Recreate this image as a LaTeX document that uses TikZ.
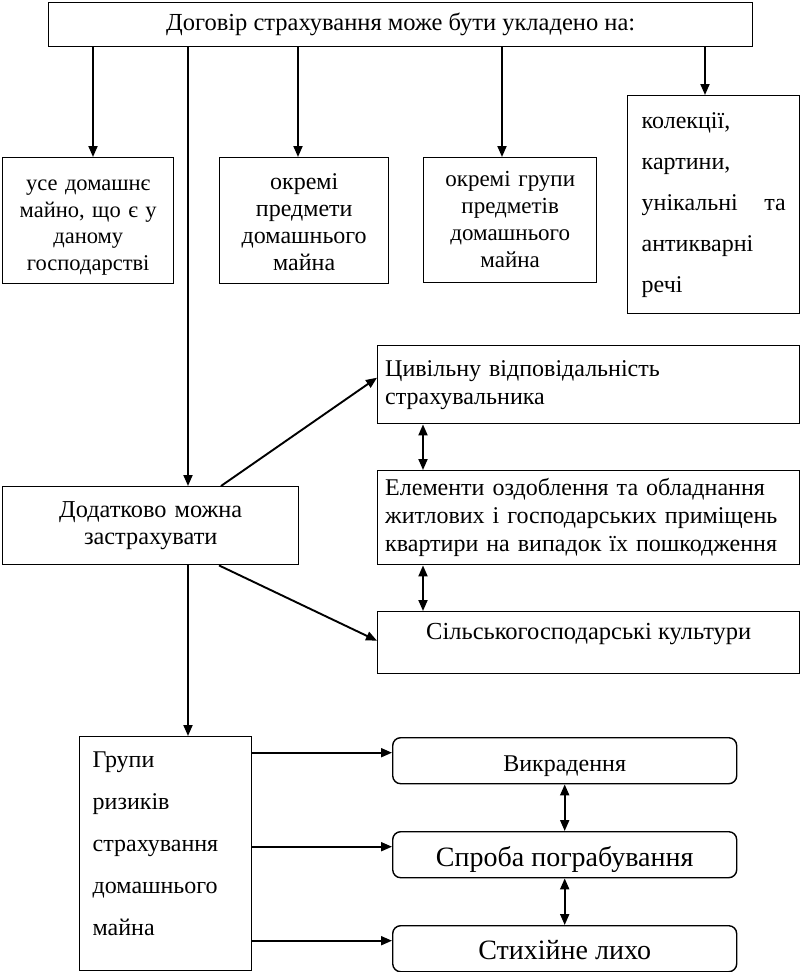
\documentclass[tikz,border=0pt]{standalone}
\usepackage{fontspec}
\setmainfont{Liberation Serif}
\usetikzlibrary{arrows.meta}
\begin{document}
\begin{tikzpicture}[x=1pt,y=-1pt,
  box/.style={draw, line width=1.4pt, inner sep=0pt, anchor=north west, font=\fontsize{24}{27}\selectfont},
  rbox/.style={box, rounded corners=8pt},
  arr/.style={line width=1.9pt, -{Triangle[length=11pt,width=9pt]}},
  darr/.style={line width=1.9pt, {Triangle[length=11pt,width=9pt]}-{Triangle[length=11pt,width=9pt]}},
]
\useasboundingbox (0,0) rectangle (800,972);
\fill[white] (0,0) rectangle (800,972);

\node[box, minimum width=704pt, minimum height=44pt, font=\fontsize{24.5}{27}\selectfont] (top) at (48,2) {Договір страхування може бути укладено на:};

\node[box, minimum width=171pt, minimum height=126pt, text width=165pt, align=center, font=\fontsize{22.5}{26.5}\selectfont, text height=17pt, text depth=77pt] (b1) at (2,157)
  {усе домашнє\\ майно, що є у\\ даному\\ господарстві};
\node[box, minimum width=169pt, minimum height=126pt, text width=160pt, align=center, text height=17pt, text depth=79pt] (b2) at (219,157)
  {окремі\\ предмети\\ домашнього\\ майна};
\node[box, minimum width=173pt, minimum height=125pt, text width=165pt, align=center, font=\fontsize{23}{27}\selectfont, text height=17pt, text depth=85pt] (b3) at (423,157)
  {окремі групи\\ предметів\\ домашнього\\ майна};
\node[box, minimum width=172pt, minimum height=218pt, text width=144pt, align=left, font=\fontsize{24}{41}\selectfont] (col) at (627,95)
  {колекції,\\ картини,\\ \leavevmode\hbox to 144pt{унікальні\hfill та}\\ антикварні\\ речі};

\node[box, minimum width=296pt, minimum height=78pt, text width=280pt, align=center, font=\fontsize{24.3}{27}\selectfont] (dod) at (2,486)
  {Додатково можна\\ застрахувати};

\node[box, minimum width=422pt, minimum height=78pt, text width=407pt, align=left, font=\fontsize{24}{28}\selectfont] (civ) at (377,345)
  {Цивільну відповідальність\\ страхувальника};
\node[box, minimum width=422pt, minimum height=94pt, text width=407pt, align=left, font=\fontsize{24}{28}\selectfont] (elem) at (377,470)
  {Елементи оздоблення та обладнання\\ житлових і господарських приміщень\\ квартири на випадок їх пошкодження};
\node[box, minimum width=422pt, minimum height=62pt, font=\fontsize{24.5}{27}\selectfont, text height=17pt, text depth=24pt] (sil) at (377,611)
  {Сільськогосподарські культури};

\node[box, minimum width=172pt, minimum height=234pt, text width=146pt, align=left, font=\fontsize{24}{42}\selectfont, text height=17pt, text depth=190pt] (grp) at (79,736)
  {Групи\\ ризиків\\ страхування\\ домашнього\\ майна};

\node[rbox, minimum width=344pt, minimum height=46pt, text height=26pt, text depth=5pt] (vyk) at (392,737) {Викрадення};
\node[rbox, minimum width=344pt, minimum height=46pt, font=\fontsize{28}{30}\selectfont, text height=29pt, text depth=6pt] (spr) at (392,831) {Спроба пограбування};
\node[rbox, minimum width=344pt, minimum height=46pt, font=\fontsize{28}{30}\selectfont, text height=28pt, text depth=6pt] (sty) at (392,925) {Стихійне лихо};

\draw[arr] (top.south -| 93,0) -- (b1.north -| 93,0);
\draw[arr] (top.south -| 298,0) -- (b2.north -| 298,0);
\draw[arr] (top.south -| 502,0) -- (b3.north -| 502,0);
\draw[arr] (top.south -| 705,0) -- (col.north -| 705,0);
\draw[arr] (top.south -| 188,0) -- (dod.north -| 188,0);
\draw[arr] (dod.south -| 188,0) -- (grp.north -| 188,0);
\draw[arr] (dod.north -| 221,0) -- ([yshift=7pt]civ.west);
\draw[arr] (dod.south -| 219,0) -- ([yshift=2pt]sil.west);
\draw[darr] (civ.south -| 423,0) -- (elem.north -| 423,0);
\draw[darr] (elem.south -| 423,0) -- (sil.north -| 423,0);
\draw[arr] ([yshift=8pt]vyk.west -| grp.east) -- ([yshift=8pt]vyk.west);
\draw[arr] ([yshift=8pt]spr.west -| grp.east) -- ([yshift=8pt]spr.west);
\draw[arr] ([yshift=8pt]sty.west -| grp.east) -- ([yshift=8pt]sty.west);
\draw[darr] (vyk.south) -- (spr.north);
\draw[darr] (spr.south) -- (sty.north);
\end{tikzpicture}
\end{document}
